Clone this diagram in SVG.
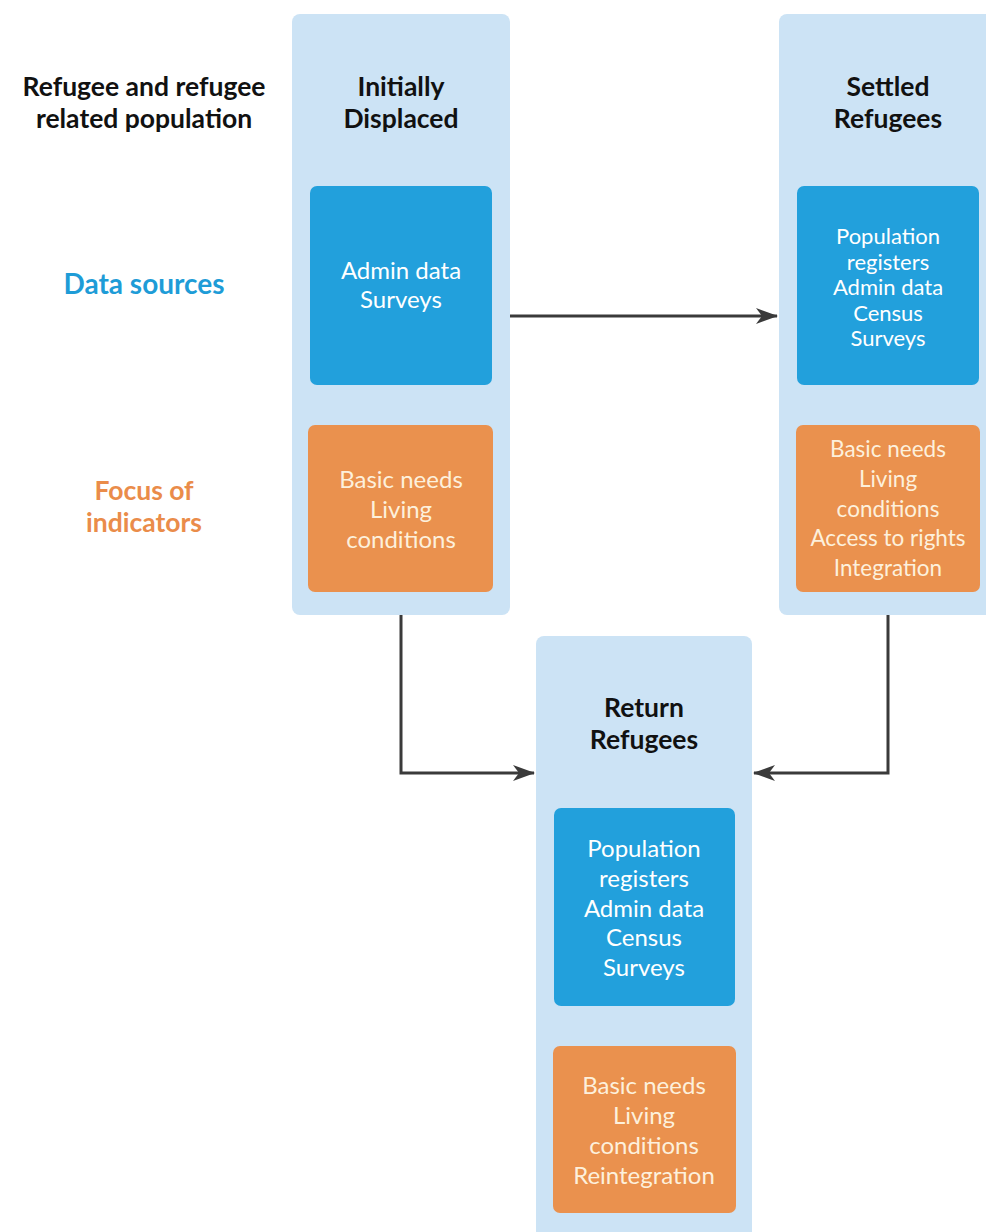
<svg xmlns="http://www.w3.org/2000/svg" width="986" height="1232" viewBox="0 0 986 1232">
  <style>
    .col { fill: #cce3f5; }
    .src { fill: #22a0dc; }
    .ind { fill: #ea914e; }
    .head { font-family: Lato, "Liberation Sans", sans-serif; font-weight: 700; font-size: 26.5px; fill: #111; text-anchor: middle; }
    .body { font-family: Lato, "Liberation Sans", sans-serif; font-size: 24px; text-anchor: middle; }
    .small { font-size: 22.5px; }
    .tight { font-size: 22px; }
    .w { fill: #ffffff; }
    .c { fill: #fdf0dc; }
    .lblb { font-family: Lato, "Liberation Sans", sans-serif; font-weight: 700; font-size: 28px; fill: #1e9cd7; text-anchor: middle; }
    .lblo { font-family: Lato, "Liberation Sans", sans-serif; font-weight: 700; font-size: 26.5px; fill: #ea8c4a; text-anchor: middle; }
    .conn { fill: none; stroke: #3a3a3a; stroke-width: 3; }
  </style>
  <defs>
    <marker id="arrow" viewBox="0 0 22 16" refX="21" refY="8" markerWidth="22" markerHeight="16" markerUnits="userSpaceOnUse" orient="auto">
      <path d="M0,0 L22,8 L0,16 L6,8 Z" fill="#3a3a3a"/>
    </marker>
  </defs>
  <rect width="986" height="1232" fill="#ffffff"/>

  <!-- row labels -->
  <g id="row-labels">
    <text class="head" x="144" y="96">Refugee and refugee</text>
    <text class="head" x="144" y="128">related population</text>
    <text class="lblb" x="144" y="294">Data sources</text>
    <text class="lblo" x="144" y="500">Focus of</text>
    <text class="lblo" x="144" y="532">indicators</text>
  </g>

  <!-- connectors -->
  <g id="connectors">
    <path class="conn" d="M510,316 H777" marker-end="url(#arrow)"/>
    <path class="conn" d="M401,615 V773 H534" marker-end="url(#arrow)"/>
    <path class="conn" d="M888,615 V773 H754" marker-end="url(#arrow)"/>
  </g>

  <!-- Initially Displaced -->
  <g id="initially-displaced">
    <rect class="col" x="292" y="14" width="218" height="601" rx="8"/>
    <text class="head" x="401" y="96">Initially</text>
    <text class="head" x="401" y="128">Displaced</text>
    <rect class="src" x="310" y="186" width="182" height="199" rx="7"/>
    <text class="body w" x="401" y="279">Admin data</text>
    <text class="body w" x="401" y="308">Surveys</text>
    <rect class="ind" x="308" y="425" width="185" height="167" rx="7"/>
    <text class="body c" x="401" y="488">Basic needs</text>
    <text class="body c" x="401" y="518">Living</text>
    <text class="body c" x="401" y="548">conditions</text>
  </g>

  <!-- Settled Refugees -->
  <g id="settled-refugees">
    <rect class="col" x="779" y="14" width="220" height="601" rx="8"/>
    <text class="head" x="888" y="96">Settled</text>
    <text class="head" x="888" y="128">Refugees</text>
    <rect class="src" x="797" y="186" width="182" height="199" rx="7"/>
    <text class="body tight w" x="888" y="244">Population</text>
    <text class="body tight w" x="888" y="269.5">registers</text>
    <text class="body tight w" x="888" y="295">Admin data</text>
    <text class="body tight w" x="888" y="320.5">Census</text>
    <text class="body tight w" x="888" y="346">Surveys</text>
    <rect class="ind" x="796" y="425" width="184" height="167" rx="7"/>
    <text class="body small c" x="888" y="457">Basic needs</text>
    <text class="body small c" x="888" y="487">Living</text>
    <text class="body small c" x="888" y="517">conditions</text>
    <text class="body small c" x="888" y="546">Access to rights</text>
    <text class="body small c" x="888" y="576">Integration</text>
  </g>

  <!-- Return Refugees -->
  <g id="return-refugees">
    <rect class="col" x="536" y="636" width="216" height="610" rx="8"/>
    <text class="head" x="644" y="717">Return</text>
    <text class="head" x="644" y="749">Refugees</text>
    <rect class="src" x="554" y="808" width="181" height="198" rx="7"/>
    <text class="body w" x="644" y="857">Population</text>
    <text class="body w" x="644" y="887">registers</text>
    <text class="body w" x="644" y="917">Admin data</text>
    <text class="body w" x="644" y="946">Census</text>
    <text class="body w" x="644" y="976">Surveys</text>
    <rect class="ind" x="553" y="1046" width="183" height="167" rx="7"/>
    <text class="body c" x="644" y="1094">Basic needs</text>
    <text class="body c" x="644" y="1124">Living</text>
    <text class="body c" x="644" y="1154">conditions</text>
    <text class="body c" x="644" y="1184">Reintegration</text>
  </g>
</svg>
